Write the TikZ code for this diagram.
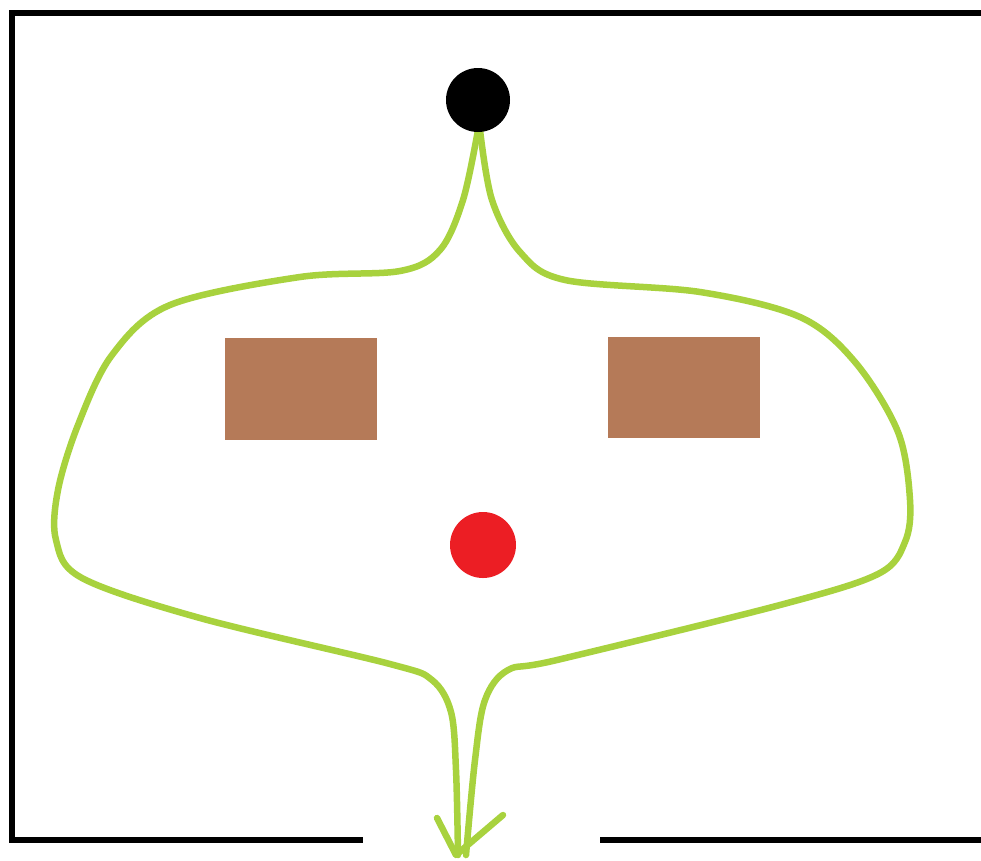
\documentclass[tikz,border=0pt]{standalone}
\begin{document}
\begin{tikzpicture}[x=1pt,y=-1pt,
  wall/.style={line width=6.5pt,black},
  pathline/.style={line width=6.5pt,color=pathgreen,line cap=round,line join=round},
  box/.style={fill=boxbrown,draw=none},
]
\definecolor{pathgreen}{RGB}{168,210,62}
\definecolor{boxbrown}{RGB}{181,122,88}
\definecolor{dotred}{RGB}{236,30,36}
\useasboundingbox (0,0) rectangle (981,860);
\fill[white] (0,0) rectangle (981,860);
% walls
\draw[wall] (981,13) -- (12,13) -- (12,840) -- (363,840);
\draw[wall] (600,840) -- (981,840);
% obstacles
\fill[box] (225,338) rectangle (377,440);
\fill[box] (608,337) rectangle (760,438);
% paths
\draw[pathline] plot[smooth,tension=0.55] coordinates {(478,130) (463,200) (440,250) (400,271) (300,277) (170,305) (112,355) (78,425) (58,490) (56,540) (82,578) (200,618) (390,664) (432,680) (451,712) (456,770) (458,855)};
\draw[pathline] plot[smooth,tension=0.55] coordinates {(480,130) (492,200) (520,252) (565,280) (700,292) (800,317) (855,362) (898,432) (910,500) (905,542) (878,574) (780,605) (557,660) (508,670) (485,700) (475,760) (466,855)};
\draw[pathline] (437,818) -- (456,855) -- (503,815);
% start and goal
\fill[black] (478,100) circle (32);
\fill[dotred] (483,545) circle (33);
\end{tikzpicture}
\end{document}
